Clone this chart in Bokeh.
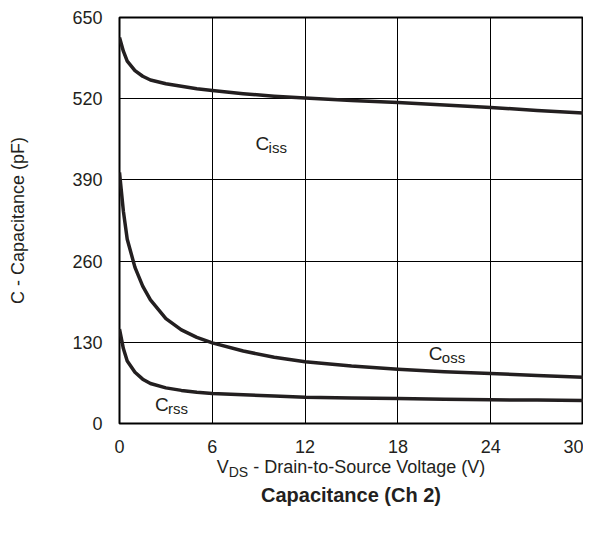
from bokeh.plotting import figure
from bokeh.models import FixedTicker, Range1d, Label, Div
from bokeh.layouts import column
from bokeh.embed import file_html
from bokeh.resources import INLINE

# Data
vds = [0, 0.25, 0.5, 1, 1.5, 2, 3, 4, 5, 6, 8, 10, 12, 15, 18, 21, 24, 27, 30]
ciss = [618, 596, 580, 565, 556, 550, 544, 540, 536, 533, 528, 524, 521, 517, 514, 510, 506, 501, 497]
coss = [402, 340, 295, 250, 220, 198, 168, 150, 138, 129, 116, 106, 99, 92, 87, 83, 80, 77, 74]
crss = [151, 120, 100, 82, 71, 64, 57, 53, 50, 48, 46, 44, 42, 41, 40, 39, 38, 37.5, 37]

x_ticks = [0, 6, 12, 18, 24, 30]
y_ticks = [0, 130, 260, 390, 520, 650]

curve_labels = [("C", "iss", 8.8, 448), ("C", "oss", 20.0, 112), ("C", "rss", 2.3, 30)]

x_title_main = "V"
x_title_sub = "DS"
x_title_rest = " - Drain-to-Source Voltage (V)"
y_title = "C - Capacitance (pF)"
chart_title = "Capacitance (Ch 2)"

FONT = "Liberation Sans"
INK = "#231f20"

p = figure(width=583, height=456, output_backend="svg", toolbar_location=None,
           x_range=Range1d(0, 30), y_range=Range1d(0, 650),
           min_border_left=119, min_border_right=0, min_border_top=17, min_border_bottom=33)

p.outline_line_color = "black"
p.outline_line_width = 2
p.background_fill_color = "white"
p.border_fill_color = "white"

for ax in (p.xaxis[0], p.yaxis[0]):
    ax.axis_line_color = None
    ax.major_tick_line_color = None
    ax.minor_tick_line_color = None
    ax.major_label_text_font = FONT
    ax.major_label_text_font_size = "18px"
    ax.major_label_text_color = INK

p.xaxis[0].ticker = FixedTicker(ticks=x_ticks)
p.yaxis[0].ticker = FixedTicker(ticks=y_ticks)
p.xaxis[0].major_label_standoff = 10
p.yaxis[0].major_label_standoff = 11

p.yaxis[0].axis_label = y_title
p.yaxis[0].axis_label_text_font = FONT
p.yaxis[0].axis_label_text_font_size = "18px"
p.yaxis[0].axis_label_text_font_style = "normal"
p.yaxis[0].axis_label_text_color = INK
p.yaxis[0].axis_label_standoff = 41

p.xgrid[0].ticker = FixedTicker(ticks=x_ticks)
p.ygrid[0].ticker = FixedTicker(ticks=y_ticks)
for g in (p.xgrid[0], p.ygrid[0]):
    g.grid_line_color = "black"
    g.grid_line_width = 1
    g.grid_line_alpha = 1.0

for series in (ciss, coss, crss):
    p.line(vds, series, line_color=INK, line_width=3.5, line_join="round")

for main, sub, xv, yv in curve_labels:
    p.add_layout(Label(x=xv, y=yv, text=main, text_font=FONT, text_font_size="19px",
                       text_align="left", text_baseline="alphabetic", text_color=INK))
    p.add_layout(Label(x=xv, y=yv, x_offset=13, y_offset=-4, text=sub, text_font=FONT,
                       text_font_size="15px", text_align="left", text_baseline="alphabetic",
                       text_color=INK))

html = (
    f'<div style="font-family:\'{FONT}\';color:{INK};width:583px;box-sizing:border-box;'
    f'padding-left:119px;text-align:center;">'
    f'<div style="font-size:18px;line-height:22px;margin-top:0px;">{x_title_main}'
    f'<sub style="font-size:14px;vertical-align:-4px;line-height:0;">{x_title_sub}</sub>'
    f'{x_title_rest.replace(" ", "&nbsp;", 1)}</div>'
    f'<div style="font-size:20px;font-weight:bold;line-height:24px;margin-top:5px;">{chart_title}</div>'
    f'</div>'
)
div = Div(text=html, width=583, height=61, margin=0)

layout = column(p, div, spacing=0, margin=0)

open("out.html", "w").write(file_html(layout, INLINE))
